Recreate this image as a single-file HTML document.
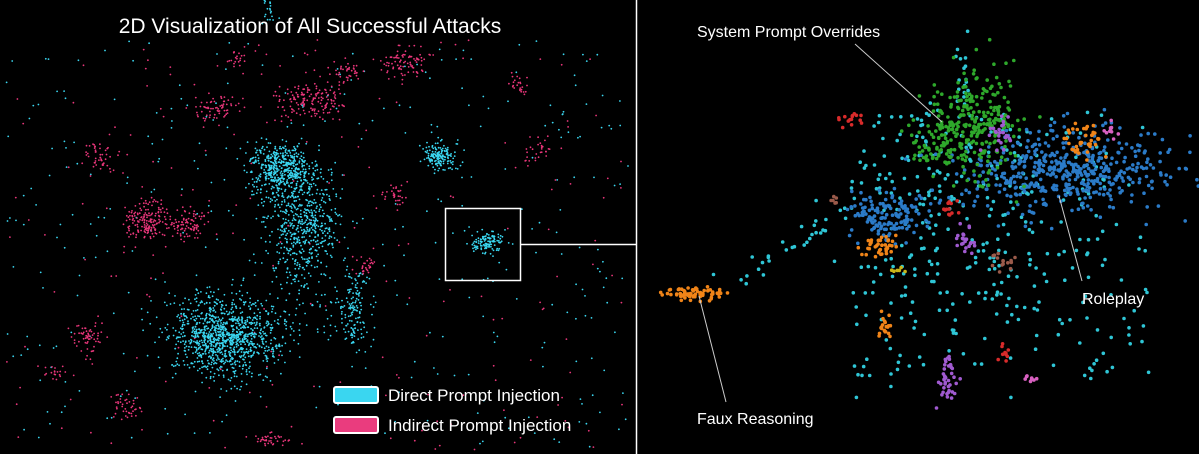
<!DOCTYPE html>
<html><head><meta charset="utf-8">
<style>
html,body{margin:0;padding:0;background:#000;width:1199px;height:454px;overflow:hidden}
svg{display:block}
text{font-family:"Liberation Sans",sans-serif;fill:#fff}
</style></head>
<body>
<svg id="s" width="1199" height="454" viewBox="0 0 1199 454" xmlns="http://www.w3.org/2000/svg">
<rect width="1199" height="454" fill="#000"/>
<g id="dots"></g>
<line x1="636.5" y1="0" x2="636.5" y2="454" stroke="#fff" stroke-width="1.5"/>
<rect x="445.5" y="208.5" width="75" height="72" fill="none" stroke="#fff" stroke-width="1.5"/>
<line x1="520" y1="244.5" x2="636" y2="244.5" stroke="#fff" stroke-width="1.5"/>
<text x="310" y="33" font-size="21" text-anchor="middle">2D Visualization of All Successful Attacks</text>
<rect x="334" y="387" width="44" height="16" fill="#3ad6f0" stroke="#fff" stroke-width="2" rx="2"/>
<text x="388" y="401" font-size="17">Direct Prompt Injection</text>
<rect x="334" y="417" width="44" height="16" fill="#ea3c7e" stroke="#fff" stroke-width="2" rx="2"/>
<text x="388" y="431" font-size="17">Indirect Prompt Injection</text>
<text x="697" y="37" font-size="16">System Prompt Overrides</text>
<line x1="855" y1="44" x2="942" y2="122" stroke="#ccc" stroke-width="1"/>
<text x="1082" y="304" font-size="16">Roleplay</text>
<line x1="1059" y1="196" x2="1082" y2="281" stroke="#ccc" stroke-width="1"/>
<text x="697" y="424" font-size="16">Faux Reasoning</text>
<line x1="699" y1="296" x2="726" y2="402" stroke="#ccc" stroke-width="1"/>
</svg>
<script>
var seed=12345;function r(){seed=(seed*16807)%2147483647;return (seed-1)/2147483646;}
function g(){var u=r()||1e-9,v=r();return Math.sqrt(-2*Math.log(u))*Math.cos(2*Math.PI*v);}
var out=[];
function cl(cx,cy,sx,sy,n,col,rad,x0,x1){for(var i=0;i<n;i++){var x=cx+g()*sx,y=cy+g()*sy;if(x0!==undefined&&(x<x0||x>x1))continue;out.push('<circle cx="'+x.toFixed(1)+'" cy="'+y.toFixed(1)+'" r="'+rad+'" fill="'+col+'"/>');}}
function un(x0,y0,x1,y1,n,col,rad){for(var i=0;i<n;i++){out.push('<circle cx="'+(x0+r()*(x1-x0)).toFixed(1)+'" cy="'+(y0+r()*(y1-y0)).toFixed(1)+'" r="'+rad+'" fill="'+col+'"/>');}}
var C='#3ad6f0',P='#e8367a';
un(5,40,630,450,380,C,0.9);un(5,40,630,450,200,P,0.9);
cl(280,170,16,14,500,C,0.9,0,630);cl(305,220,18,24,450,C,0.9,0,630);cl(225,337,28,18,1100,C,0.9,0,630);
cl(440,157,8,7,160,C,0.9);cl(487,242,8,5,120,C,0.9);cl(355,310,8,22,150,C,0.9);cl(300,270,20,25,120,C,0.9);
cl(270,12,4,6,20,C,0.9);
[[145,220,10,10,170],[188,225,9,8,90],[310,100,18,10,160],[215,110,12,8,70],[405,62,12,8,90],[100,155,8,8,50],[88,337,8,10,60],[125,405,8,6,40],[345,72,8,5,40],[270,440,10,4,40],[540,150,8,8,30],[395,195,6,6,30],[520,85,5,6,25],[235,60,6,4,20],[55,372,6,4,20],[365,265,6,5,30]].forEach(function(a){cl(a[0],a[1],a[2],a[3],a[4],P,0.9);});
var RC='#2fc6d6',BL='#2b7bc8',GR='#2ea82b',OR='#f08418',PU='#a05ad0',RD='#d82b2b',BR='#9a5a4a',PK='#d860c0',YE='#c8b418';
un(850,110,1150,380,220,RC,1.8);cl(950,210,55,65,150,RC,1.8,640,1199);
for(var i=0;i<30;i++){var t=r();out.push('<circle cx="'+(730+t*120+g()*8).toFixed(1)+'" cy="'+(280-t*70+g()*8).toFixed(1)+'" r="1.8" fill="'+RC+'"/>');}
cl(960,80,8,18,18,RC,1.8);
cl(1065,170,55,20,480,BL,1.8);cl(890,215,22,12,140,BL,1.8);
cl(975,125,22,30,280,GR,1.8);cl(928,150,10,12,40,GR,1.8);
cl(695,294,16,3,70,OR,1.8);cl(880,245,8,6,40,OR,1.8);cl(1085,140,10,8,40,OR,1.8);cl(886,326,4,7,20,OR,1.8);
cl(948,375,4,12,40,PU,1.8);cl(1000,135,7,8,25,PU,1.8);cl(965,240,6,6,25,PU,1.8);
cl(852,120,6,3,15,RD,1.8);cl(1005,355,3,4,10,RD,1.8);cl(950,210,3,5,12,RD,1.8);
cl(1000,262,6,4,15,BR,1.8);cl(835,200,3,3,6,BR,1.8);
cl(1030,378,3,3,8,PK,1.8);cl(1110,130,4,4,10,PK,1.8);cl(900,270,4,4,6,YE,1.8);
document.getElementById('dots').innerHTML=out.join('');
</script>
</body></html>
